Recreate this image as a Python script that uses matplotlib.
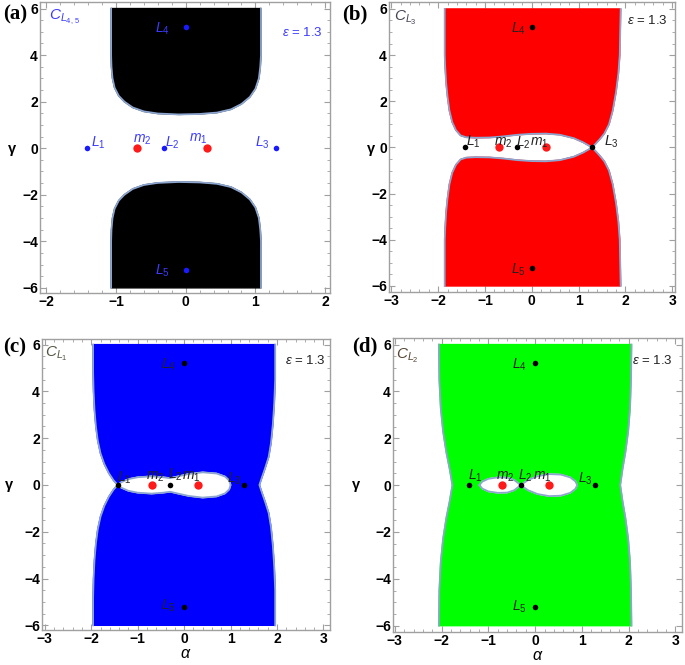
import matplotlib
matplotlib.use("Agg")
import matplotlib.pyplot as plt
from matplotlib.ticker import MultipleLocator
import numpy as np

plt.rcParams['font.family'] = ['Liberation Sans', 'DejaVu Sans']
plt.rcParams['mathtext.fontset'] = 'custom'
plt.rcParams['mathtext.rm'] = 'Liberation Sans'
plt.rcParams['mathtext.it'] = 'Liberation Sans:italic'
plt.rcParams['mathtext.bf'] = 'Liberation Sans:bold'

# ---------------- data ----------------
# equilibrium points and primaries
L_x = [-1.42, -0.31, 1.29, 0.0, 0.0]
L_y = [0.0, 0.0, 0.0, 5.22, -5.22]
m_x = [0.30, -0.70]
m_y = [0.0, 0.0]
eps_text = r'$\epsilon$ = 1.3'

# panel (a): upper forbidden region outline (lower is its mirror)
a_x = [-1.07, -1.07, -1.065, -1.05, -1.02, -0.96, -0.88, -0.76, -0.60, -0.40, -0.10,
       0.20, 0.45, 0.65, 0.80, 0.92, 1.00, 1.05, 1.07, 1.08, 1.08]
a_y = [6.0, 4.0, 3.5, 3.0, 2.6, 2.25, 2.0, 1.75, 1.58, 1.49, 1.45,
       1.47, 1.53, 1.67, 1.90, 2.20, 2.55, 3.00, 3.50, 4.00, 6.0]

# panel (b): upper forbidden region outline (lower is its mirror)
b_x = [-1.86, -1.86, -1.85, -1.83, -1.80, -1.76, -1.70, -1.62, -1.52, -1.40, -1.20,
       -0.90, -0.60, -0.30, 0.00, 0.30, 0.60, 0.90, 1.10, 1.29,
       1.45, 1.55, 1.65, 1.73, 1.80, 1.85, 1.88, 1.90]
b_y = [6.0, 4.0, 3.5, 2.8, 2.2, 1.6, 1.1, 0.75, 0.52, 0.44, 0.42,
       0.43, 0.48, 0.55, 0.59, 0.60, 0.55, 0.40, 0.22, 0.0,
       0.35, 0.60, 1.00, 1.60, 2.40, 3.20, 4.00, 6.0]

# panel (c): left / right edges of allowed-region boundary (upper half) and inner oval
c_left_x = [-1.96, -1.96, -1.95, -1.93, -1.90, -1.86, -1.80, -1.72, -1.62, -1.52, -1.43]
c_left_y = [6.0, 4.8, 4.0, 3.2, 2.5, 1.9, 1.35, 0.9, 0.5, 0.2, 0.0]
c_right_x = [1.96, 1.96, 1.94, 1.91, 1.87, 1.82, 1.74, 1.67, 1.62]
c_right_y = [6.0, 4.5, 3.5, 2.6, 1.8, 1.2, 0.7, 0.3, 0.0]
c_oval_x = [-1.43, -1.35, -1.20, -1.00, -0.70, -0.45, -0.30, -0.15, 0.10, 0.40, 0.70,
            0.88, 0.97, 1.00]
c_oval_y = [0.0, 0.12, 0.25, 0.33, 0.37, 0.33, 0.29, 0.36, 0.47, 0.54, 0.49,
            0.36, 0.19, 0.0]

# panel (d)
d_left_x = [-2.06, -2.05, -2.02, -1.97, -1.90, -1.83, -1.77]
d_left_y = [6.0, 4.5, 3.3, 2.3, 1.4, 0.7, 0.0]
d_right_x = [2.06, 2.05, 2.03, 1.99, 1.93, 1.87, 1.82]
d_right_y = [6.0, 4.5, 3.3, 2.3, 1.4, 0.7, 0.0]
d_lobe1_x = [-1.19, -1.13, -1.00, -0.80, -0.60, -0.45, -0.31]
d_lobe1_y = [0.0, 0.15, 0.27, 0.33, 0.32, 0.22, 0.0]
d_lobe2_x = [-0.31, -0.15, 0.05, 0.30, 0.55, 0.75, 0.86, 0.90]
d_lobe2_y = [0.0, 0.22, 0.38, 0.47, 0.45, 0.33, 0.16, 0.0]

# ---------------- helpers ----------------
EDGE = '#8da6cf'
FRAME = '#a0a0a0'


def closed_mirror(xs, ys):
    """upper-half outline -> closed outline with mirrored lower half"""
    xs = list(xs); ys = list(ys)
    X = xs + xs[::-1][1:]
    Y = ys + [-v for v in ys[::-1][1:]]
    return X, Y


def side_curve(xs, ys):
    """upper-half side edge (top -> y=0) -> full edge top -> bottom"""
    xs = list(xs); ys = list(ys)
    return xs + xs[::-1][1:], ys + [-v for v in ys[::-1][1:]]


def fmt(v, p):
    return f'{int(round(v))}'.replace('-', '\u2212')


def style_axes(ax, xlim, ylim):
    ax.set_xlim(*xlim)
    ax.set_ylim(*ylim)
    ax.xaxis.set_major_locator(MultipleLocator(1))
    ax.xaxis.set_minor_locator(MultipleLocator(0.2))
    ax.yaxis.set_major_locator(MultipleLocator(2))
    ax.yaxis.set_minor_locator(MultipleLocator(0.5))
    for s in ax.spines.values():
        s.set_color(FRAME)
        s.set_linewidth(1.0)
    ax.tick_params(which='both', direction='in', top=True, right=True, color=FRAME,
                   labelsize=10, pad=1.5)
    ax.tick_params(which='major', length=4, width=0.8)
    ax.tick_params(which='minor', length=2.2, width=0.6)
    ax.xaxis.set_major_formatter(plt.FuncFormatter(fmt))
    ax.yaxis.set_major_formatter(plt.FuncFormatter(fmt))
    for lab in ax.get_xticklabels() + ax.get_yticklabels():
        lab.set_fontweight('bold')


def draw_points(ax, Lcol):
    ax.plot(L_x, L_y, 'o', color=Lcol, ms=4, zorder=6, mec='none')
    ax.plot(m_x, m_y, 'o', color='#ff1a1a', ms=6, zorder=6, mec='none')


def draw_labels(ax, col, pos):
    names = [r'$L_1$', r'$m_2$', r'$L_2$', r'$m_1$', r'$L_3$', r'$L_4$', r'$L_5$']
    for n, (x, y) in zip(names, pos):
        ax.text(x, y, n, color=col, fontsize=10, ha='center', va='center', zorder=7)


fig = plt.figure(figsize=(6.85, 6.65), dpi=100)
W, H = 685.0, 665.0


def add_ax(l, t, r, b):
    return fig.add_axes([l / W, 1 - b / H, (r - l) / W, (b - t) / H])


axa = add_ax(40, 2, 330, 293)
axb = add_ax(389, 2, 675, 292)
axc = add_ax(42, 339, 330, 630)
axd = add_ax(393, 338, 682, 632)

# ---- (a) ----
X, Y = a_x, a_y
axa.fill(X, Y, color='black', zorder=2)
axa.plot(X, Y, color=EDGE, lw=1.3, zorder=3)
axa.fill(X, [-v for v in Y], color='black', zorder=2)
axa.plot(X, [-v for v in Y], color=EDGE, lw=1.3, zorder=3)
style_axes(axa, (-2.09, 2.07), (-6.22, 6.28))
draw_points(axa, '#1a1aff')
acol = '#3b3bff'
draw_labels(axa, acol, [(-1.26, 0.25), (-0.62, 0.38), (-0.19, 0.25), (0.18, 0.42),
                        (1.10, 0.25), (-0.33, 5.15), (-0.33, -5.28)])
axa.text(-1.73, 5.6, r'$C_{L_{4,\,5}}$', color=acol, fontsize=11, ha='center', va='center')
axa.text(1.68, 4.96, eps_text, color=acol, fontsize=9.5, ha='center', va='center')

# ---- (b) ----
axb.fill(b_x, b_y, color='#ff0000', zorder=2)
axb.plot(b_x, b_y, color=EDGE, lw=1.3, zorder=3)
axb.fill(b_x, [-v for v in b_y], color='#ff0000', zorder=2)
axb.plot(b_x, [-v for v in b_y], color=EDGE, lw=1.3, zorder=3)
style_axes(axb, (-3.05, 3.06), (-6.26, 6.3))
draw_points(axb, 'black')
tcol = '#222222'
draw_labels(axb, tcol, [(-1.25, 0.25), (-0.62, 0.2), (-0.19, 0.22), (0.15, 0.22),
                        (1.70, 0.25), (-0.28, 5.15), (-0.28, -5.28)])
axb.text(-2.71, 5.6, r'$C_{L_3}$', color='#444455', fontsize=11, ha='center', va='center')
axb.text(2.46, 5.5, eps_text, color=tcol, fontsize=9.5, ha='center', va='center')

# ---- (c) ----
cx, cy = side_curve(c_left_x, c_left_y)
rx, ry = side_curve(c_right_x, c_right_y)
axc.fill(cx + rx[::-1], cy + ry[::-1], color='#0000ff', zorder=2)
axc.plot(cx, cy, color=EDGE, lw=1.3, zorder=3)
axc.plot(rx, ry, color=EDGE, lw=1.3, zorder=3)
ox, oy = closed_mirror(c_oval_x, c_oval_y)
axc.fill(ox, oy, color='white', zorder=3)
axc.plot(ox, oy, color=EDGE, lw=1.3, zorder=4)
style_axes(axc, (-3.06, 3.14), (-6.2, 6.24))
draw_points(axc, 'black')
draw_labels(axc, tcol, [(-1.28, 0.3), (-0.63, 0.36), (-0.2, 0.43), (0.15, 0.36),
                        (1.09, 0.25), (-0.33, 5.15), (-0.33, -5.18)])
axc.text(-2.75, 5.58, r'$C_{L_1}$', color='#555544', fontsize=11, ha='center', va='center')
axc.text(2.6, 5.3, eps_text, color=tcol, fontsize=9.5, ha='center', va='center')
axc.set_xlabel(r'$\alpha$', fontsize=11.5, labelpad=0)

# ---- (d) ----
lx, ly = side_curve(d_left_x, d_left_y)
rx, ry = side_curve(d_right_x, d_right_y)
axd.fill(lx + rx[::-1], ly + ry[::-1], color='#00ff00', zorder=2)
axd.plot(lx, ly, color=EDGE, lw=1.3, zorder=3)
axd.plot(rx, ry, color=EDGE, lw=1.3, zorder=3)
for xs, ys in [(d_lobe1_x, d_lobe1_y), (d_lobe2_x, d_lobe2_y)]:
    ox, oy = closed_mirror(xs, ys)
    axd.fill(ox, oy, color='white', zorder=3)
    axd.plot(ox, oy, color=EDGE, lw=1.3, zorder=4)
style_axes(axd, (-3.04, 3.14), (-6.27, 6.28))
draw_points(axd, 'black')
draw_labels(axd, tcol, [(-1.27, 0.41), (-0.63, 0.37), (-0.22, 0.41), (0.15, 0.37),
                        (1.07, 0.25), (-0.33, 5.13), (-0.33, -5.2)])
axd.text(-2.73, 5.5, r'$C_{L_2}$', color='#554433', fontsize=11, ha='center', va='center')
axd.text(2.5, 5.3, eps_text, color=tcol, fontsize=9.5, ha='center', va='center')
axd.set_xlabel(r'$\alpha$', fontsize=11.5, labelpad=0)

# gamma labels and panel letters
for (x, y) in [(12, 149), (371, 149), (9, 485), (356, 485)]:
    fig.text(x / W, 1 - y / H, '\u03b3', fontsize=10.5, fontweight='bold', ha='center', va='center')
for t, (x, y) in zip(['(a)', '(b)', '(c)', '(d)'], [(3, 14), (342, 14), (3, 347), (352, 346)]):
    fig.text(x / W, 1 - y / H, t, fontsize=15, fontweight='bold', family='Liberation Serif',
             ha='left', va='center')

fig.savefig('out.png', dpi=100)
